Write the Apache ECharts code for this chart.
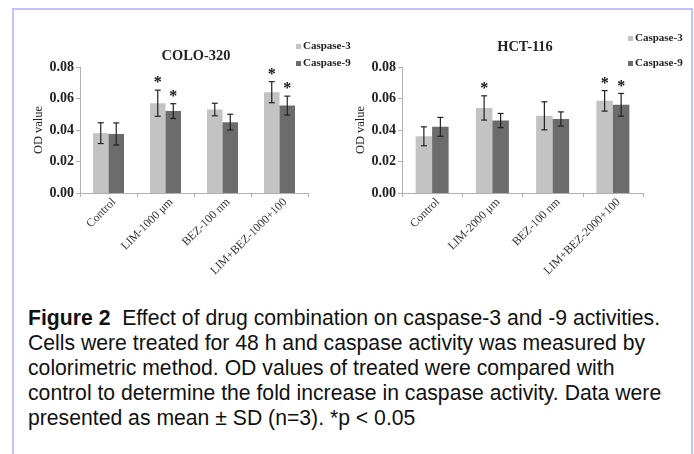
<!DOCTYPE html>
<html>
<head>
<meta charset="utf-8">
<script src="https://cdn.jsdelivr.net/npm/echarts@6/dist/echarts.min.js"></script>
<style>
  html, body { margin: 0; padding: 0; background: #fff; }
  #frame { position: absolute; left: 12px; top: 8px; width: 677px; height: 470px; border: 2px solid #c2c2ff; border-bottom: none; }
  #chart { position: absolute; left: 0; top: 0; width: 694px; height: 295px; }
  #caption { position: absolute; left: 28px; top: 305px; width: 664px; white-space: nowrap; font-family: "Liberation Sans", Arial, sans-serif; font-size: 21.2px; line-height: 25px; color: #111; }
</style>
</head>
<body>
<div id="frame"></div>
<div id="chart"></div>
<div id="caption"><b>Figure 2</b>&nbsp; Effect of drug combination on caspase-3 and -9 activities.<br>Cells were treated for 48 h and caspase activity was measured by<br>colorimetric method. OD values of treated were compared with<br>control to determine the fold increase in caspase activity. Data were<br>presented as mean ± SD (n=3). *p &lt; 0.05</div>
<script>
// ---- data ----
const yTicks = [0, 0.02, 0.04, 0.06, 0.08];
const catsColo = ['Control', 'LIM-1000 μm', 'BEZ-100 nm', 'LIM+BEZ-1000+100'];
const catsHct = ['Control', 'LIM-2000 μm', 'BEZ-100 nm', 'LIM+BEZ-2000+100'];
const coloC3 = [0.038, 0.057, 0.053, 0.064];
const coloC3sd = [0.0066, 0.0083, 0.004, 0.0067];
const coloC3sig = [0, 1, 0, 1];
const coloC9 = [0.0375, 0.052, 0.045, 0.0555];
const coloC9sd = [0.007, 0.0047, 0.005, 0.006];
const coloC9sig = [0, 1, 0, 1];
const hctC3 = [0.036, 0.054, 0.049, 0.0585];
const hctC3sd = [0.006, 0.0077, 0.0089, 0.0065];
const hctC3sig = [0, 1, 0, 1];
const hctC9 = [0.042, 0.046, 0.047, 0.056];
const hctC9sd = [0.006, 0.0045, 0.0045, 0.0072];
const hctC9sig = [0, 0, 0, 1];

const serif = '"Liberation Serif", "Times New Roman", serif';
const C3COL = '#c3c3c3', C9COL = '#6c6c6c';

function errData(means, sds, sigs) {
  return means.map((m, i) => [i, m, sds[i], sigs[i]]);
}
function errSeries(idx, means, sds, sigs, sign, bw) {
  return {
    type: 'custom', xAxisIndex: idx, yAxisIndex: idx, z: 5,
    data: errData(means, sds, sigs),
    renderItem: function (params, api) {
      const c = api.value(0), m = api.value(1), s = api.value(2), sig = api.value(3);
      const x = api.coord([c, 0])[0] + sign * bw / 2;
      const yt = api.coord([c, m + s])[1];
      const yb = api.coord([c, m - s])[1];
      const st = { stroke: '#222', lineWidth: 1.2 };
      const ch = [
        { type: 'line', shape: { x1: x, y1: yt, x2: x, y2: yb }, style: st },
        { type: 'line', shape: { x1: x - 3, y1: yt, x2: x + 3, y2: yt }, style: st },
        { type: 'line', shape: { x1: x - 3, y1: yb, x2: x + 3, y2: yb }, style: st }
      ];
      if (sig) {
        ch.push({ type: 'text', x: x, y: yt + 1, style: { text: '*', fill: '#111', font: 'bold 16px ' + serif, textAlign: 'center', textVerticalAlign: 'bottom' } });
      }
      return { type: 'group', children: ch };
    }
  };
}

const chart = echarts.init(document.getElementById('chart'), null, { renderer: 'canvas' });
const gridDefs = [
  { left: 80, top: 67, width: 228, height: 126 },
  { left: 402, top: 67, width: 241, height: 126 }
];
function xAx(idx, cats) {
  return {
    type: 'category', gridIndex: idx, data: cats,
    axisLine: { lineStyle: { color: '#b0b0b0', width: 1 } },
    axisTick: { show: true, length: 4, lineStyle: { color: '#b0b0b0' } },
    axisLabel: { rotate: 45, interval: 0, margin: 13, padding: [0, -8, 0, 0], fontFamily: serif, fontSize: 11.8, color: '#333' }
  };
}
function yAx(idx) {
  return {
    type: 'value', gridIndex: idx, min: 0, max: 0.08, interval: 0.02,
    name: 'OD value', nameLocation: 'middle', nameGap: 30,
    nameTextStyle: { fontFamily: serif, fontSize: 12.5, color: '#222' },
    axisLine: { show: true, lineStyle: { color: '#b0b0b0', width: 1 } },
    axisTick: { show: true, length: 4, lineStyle: { color: '#b0b0b0' } },
    splitLine: { show: false },
    axisLabel: { margin: 6, fontFamily: serif, fontWeight: 'bold', fontSize: 14, color: '#222',
      formatter: v => { const t = yTicks.find(k => Math.abs(k - v) < 1e-9); return (t !== undefined ? t : v).toFixed(2); } }
  };
}
function barS(name, idx, vals, col, bw) {
  return { name: name, type: 'bar', xAxisIndex: idx, yAxisIndex: idx, data: vals, barWidth: bw, barGap: '0%',
    itemStyle: { color: col }, emphasis: { disabled: true } };
}
const bwL = 15.5, bwR = 16.5;
const legText = { fontFamily: serif, fontWeight: 'bold', fontSize: 11, color: '#222', padding: [0, 0, 0, -3] };
chart.setOption({
  animation: false,
  backgroundColor: 'transparent',
  title: [
    { text: 'COLO-320', left: 196, top: 49, padding: 0, textAlign: 'center', textStyle: { fontFamily: serif, fontWeight: 'bold', fontSize: 14.4, color: '#222' } },
    { text: 'HCT-116', left: 525, top: 40, padding: 0, textAlign: 'center', textStyle: { fontFamily: serif, fontWeight: 'bold', fontSize: 14.4, color: '#222' } }
  ],
  legend: [
    { orient: 'vertical', left: 296, top: 41, padding: 0, itemWidth: 5, itemHeight: 5, itemGap: 6, icon: 'rect',
      data: ['Caspase-3', 'Caspase-9'], textStyle: legText },
    { orient: 'vertical', left: 628, top: 33, padding: 0, itemWidth: 5, itemHeight: 5, itemGap: 14, icon: 'rect',
      data: ['Caspase-3', 'Caspase-9'], textStyle: legText }
  ],
  grid: gridDefs,
  xAxis: [xAx(0, catsColo), xAx(1, catsHct)],
  yAxis: [yAx(0), yAx(1)],
  series: [
    barS('Caspase-3', 0, coloC3, C3COL, bwL),
    barS('Caspase-9', 0, coloC9, C9COL, bwL),
    barS('Caspase-3', 1, hctC3, C3COL, bwR),
    barS('Caspase-9', 1, hctC9, C9COL, bwR),
    errSeries(0, coloC3, coloC3sd, coloC3sig, -1, bwL),
    errSeries(0, coloC9, coloC9sd, coloC9sig, 1, bwL),
    errSeries(1, hctC3, hctC3sd, hctC3sig, -1, bwR),
    errSeries(1, hctC9, hctC9sd, hctC9sig, 1, bwR)
  ]
});
</script>
</body>
</html>
